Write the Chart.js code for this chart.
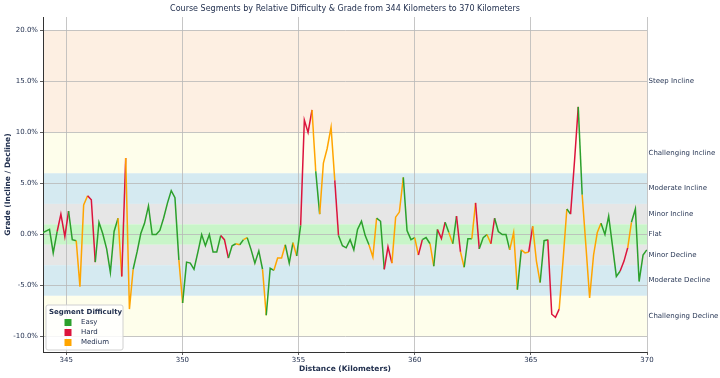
<!DOCTYPE html>
<html>
<head>
<meta charset="utf-8">
<script src="https://cdn.jsdelivr.net/npm/chart.js@4.4.0/dist/chart.umd.min.js"></script>
<style>
  html, body { margin: 0; padding: 0; background: #fff; }
</style>
</head>
<body>
<canvas id="gradeChart" width="720" height="378"></canvas>
<script>
// distance along the course (km)
const distanceKm = [
  344.00, 344.28, 344.44, 344.61, 344.77, 344.94, 345.10, 345.26, 345.43, 345.59,
  345.75, 345.92, 346.08, 346.25, 346.41, 346.57, 346.74, 346.90, 347.06, 347.23,
  347.39, 347.56, 347.72, 347.88, 348.05, 348.21, 348.37, 348.54, 348.70, 348.87,
  349.03, 349.19, 349.36, 349.52, 349.68, 349.85, 350.01, 350.18, 350.34, 350.50,
  350.67, 350.83, 350.99, 351.16, 351.32, 351.48, 351.65, 351.81, 351.98, 352.14,
  352.30, 352.47, 352.63, 352.79, 352.96, 353.12, 353.29, 353.45, 353.61, 353.78,
  353.94, 354.10, 354.27, 354.43, 354.60, 354.76, 354.92, 355.09, 355.25, 355.41,
  355.58, 355.74, 355.91, 356.07, 356.23, 356.40, 356.56, 356.72, 356.89, 357.05,
  357.22, 357.38, 357.54, 357.71, 357.87, 358.03, 358.20, 358.36, 358.53, 358.69,
  358.85, 359.02, 359.18, 359.34, 359.51, 359.67, 359.84, 360.00, 360.16, 360.33,
  360.49, 360.66, 360.82, 360.98, 361.15, 361.31, 361.47, 361.64, 361.80, 361.97,
  362.13, 362.29, 362.46, 362.62, 362.78, 362.95, 363.11, 363.28, 363.44, 363.60,
  363.77, 363.93, 364.09, 364.26, 364.42, 364.59, 364.75, 364.91, 365.08, 365.24,
  365.40, 365.57, 365.73, 365.90, 366.06, 366.22, 366.39, 366.55, 366.71, 366.88,
  367.04, 367.21, 367.37, 367.53, 367.70, 367.86, 368.02, 368.19, 368.35, 368.52,
  368.68, 368.84, 369.01, 369.17, 369.33, 369.50, 369.66, 369.83, 369.99
];

// grade in percent at each point
const gradePct = [
  0.2, 0.5, -1.8, 0.3, 2.0, -0.2, 2.3, -0.5, -0.6, -5.1,
  2.9, 3.8, 3.4, -2.7, 1.2, 0.1, -1.4, -3.7, 0.3, 1.6,
  -4.1, 7.5, -7.3, -3.4, -1.7, 0.1, 1.1, 2.8, 0.0, 0.0,
  0.4, 1.6, 3.1, 4.3, 3.6, -2.5, -6.7, -2.7, -2.8, -3.4,
  -1.7, 0.0, -1.1, 0.0, -1.7, -1.7, -0.1, -0.5, -2.3, -1.1,
  -0.9, -1.0, -0.5, -0.3, -1.5, -2.8, -1.6, -3.4, -7.9, -3.3,
  -3.5, -2.3, -2.3, -1.0, -2.8, -0.8, -2.1, 0.9, 11.2, 10.0,
  12.2, 6.2, 2.0, 7.0, 8.4, 10.5, 5.3, -0.1, -1.1, -1.3,
  -0.5, -1.5, 0.5, 1.3, -0.1, -1.0, -2.2, 1.6, 1.3, -3.4,
  -1.2, -2.8, 1.7, 2.2, 5.6, 0.4, -0.5, -0.3, -2.0, -0.5,
  -0.3, -0.9, -3.1, 0.5, -0.4, 1.2, 0.2, -0.9, 1.8, -1.7,
  -3.2, -0.4, -0.4, 3.1, -1.4, -0.3, 0.0, -0.9, 1.6, 0.3,
  0.0, 0.0, -1.5, 0.2, -5.4, -1.5, -1.8, -1.7, 0.8, -2.6,
  -4.7, -0.6, -0.5, -7.8, -8.1, -7.3, -2.4, 2.5, 2.0, 7.2,
  12.5, 3.9, -1.1, -6.2, -2.0, 0.2, 1.1, 0.0, 1.8, -1.2,
  -4.1, -3.6, -2.6, -1.3, 1.2, 2.5, -4.6, -2.0, -1.5
];

// difficulty of each segment between consecutive points (E = Easy, H = Hard, M = Medium)
const segmentDifficulty = [
  'E','E','E','H','H','H','E','E','M','M',
  'M','H','H','E','E','E','E','E','E','M',
  'H','M','M','E','E','E','E','E','E','E',
  'E','E','E','E','E','M','E','E','E','E',
  'E','E','E','E','E','E','H','H','E','E',
  'M','E','M','E','E','E','E','M','E','E',
  'M','M','M','E','E','M','E','H','H','H',
  'M','E','M','M','M','M','H','E','E','E',
  'E','E','E','E','E','M','M','E','E','H',
  'H','M','M','M','E','E','E','M','H','E',
  'E','M','E','H','H','E','M','E','H','M',
  'E','E','M','H','E','E','M','H','E','E',
  'E','E','M','M','E','M','M','H','M','M',
  'E','E','H','H','H','M','M','E','H','H',
  'E','M','M','M','M','M','E','E','E','E',
  'E','H','H','M','E','E','E','E'
];

const difficultyNames = { E: 'Easy', H: 'Hard', M: 'Medium' };

// grade bands shown behind the line
const bandLabels = ['Steep Incline', 'Challenging Incline', 'Moderate Incline', 'Minor Incline',
                    'Flat', 'Minor Decline', 'Moderate Decline', 'Challenging Decline'];
const bandLow  = [10, 6, 3, 1, -1, -3, -6, -10];
const bandHigh = [20, 10, 6, 3, 1, -1, -3, -6];

const gradeTicks = [-10, -5, 0, 5, 10, 15, 20];
const distanceTicks = [345, 350, 355, 360, 365, 370];

// styles
const FONT = '"DejaVu Sans", sans-serif';
const NAVY = '#22304f';
const difficultyColors = { E: '#2ca02c', H: '#dc143c', M: '#ffa500' };
const bandColors = ['#fdefe2', '#fefeeb', '#d5eaf1', '#e6e6e6', '#c8f5c8', '#e6e6e6', '#d5eaf1', '#fefeeb'];

const bandPlugin = {
  id: 'bands',
  beforeDraw(chart) {
    const { ctx, chartArea } = chart;
    const y = chart.scales.y;
    ctx.save();
    for (let i = 0; i < bandLabels.length; i++) {
      const top = y.getPixelForValue(bandHigh[i]);
      const bottom = y.getPixelForValue(bandLow[i]);
      ctx.fillStyle = bandColors[i];
      ctx.fillRect(chartArea.left, top, chartArea.right - chartArea.left, bottom - top);
    }
    ctx.restore();
  },
  afterDraw(chart) {
    const { ctx, chartArea } = chart;
    const y = chart.scales.y;
    ctx.save();
    ctx.font = '7px ' + FONT;
    ctx.fillStyle = '#2b3a58';
    ctx.textAlign = 'left';
    ctx.textBaseline = 'middle';
    for (let i = 0; i < bandLabels.length; i++) {
      const mid = (bandLow[i] + bandHigh[i]) / 2;
      ctx.fillText(bandLabels[i], chartArea.right + 1.5, y.getPixelForValue(mid));
    }
    ctx.restore();
  }
};

const legendPlugin = {
  id: 'difficultyLegend',
  afterDraw(chart) {
    const { ctx, chartArea } = chart;
    const x0 = chartArea.left + 3, y0 = chartArea.bottom - 47, w = 77, h = 45;
    ctx.save();
    ctx.fillStyle = 'rgba(255,255,255,0.85)';
    ctx.strokeStyle = '#d0d0d0';
    ctx.lineWidth = 1;
    ctx.beginPath();
    ctx.roundRect(x0, y0, w, h, 2);
    ctx.fill();
    ctx.stroke();
    ctx.fillStyle = NAVY;
    ctx.textBaseline = 'middle';
    ctx.textAlign = 'left';
    ctx.font = 'bold 7px ' + FONT;
    ctx.fillText('Segment Difficulty', x0 + 3, y0 + 7.5);
    ctx.font = '7px ' + FONT;
    ['E', 'H', 'M'].forEach((k, i) => {
      const ry = y0 + 17.5 + i * 10;
      ctx.fillStyle = difficultyColors[k];
      ctx.fillRect(x0 + 18.5, ry - 3.5, 7, 7);
      ctx.fillStyle = NAVY;
      ctx.fillText(difficultyNames[k], x0 + 35, ry);
    });
    ctx.restore();
  }
};

const points = distanceKm.map((d, i) => ({ x: d, y: gradePct[i] }));

new Chart(document.getElementById('gradeChart'), {
  type: 'line',
  data: {
    datasets: [{
      label: 'Grade',
      data: points,
      borderWidth: 1.5,
      pointRadius: 0,
      tension: 0,
      borderColor: difficultyColors.E,
      segment: {
        borderColor: ctx => difficultyColors[segmentDifficulty[ctx.p0DataIndex]]
      }
    }]
  },
  options: {
    responsive: false,
    animation: false,
    devicePixelRatio: 1,
    layout: { padding: { top: 0, right: 73, bottom: 0, left: 0 } },
    plugins: {
      legend: { display: false },
      tooltip: { enabled: false },
      title: {
        display: true,
        fullSize: false,
        text: 'Course Segments by Relative Difficulty & Grade from 344 Kilometers to 370 Kilometers',
        color: NAVY,
        font: { family: FONT, size: 8, weight: 'normal' },
        padding: { top: 4, bottom: 3.4 }
      }
    },
    scales: {
      x: {
        type: 'linear',
        min: 344,
        max: 370,
        afterBuildTicks: s => { s.ticks = distanceTicks.map(v => ({ value: v })); },
        afterFit: s => { s.height = 26; },
        ticks: { color: NAVY, font: { family: FONT, size: 7 }, padding: 1, maxRotation: 0 },
        grid: { color: '#b8b8b8', lineWidth: 0.8, tickLength: 3, tickColor: '#333' },
        border: { display: true, color: '#333', width: 1 },
        title: {
          display: true,
          text: 'Distance (Kilometers)',
          color: NAVY,
          font: { family: FONT, size: 7.5, weight: 'bold' },
          padding: { top: 0, bottom: 4.5 }
        }
      },
      y: {
        type: 'linear',
        min: -11.5,
        max: 21.3,
        afterBuildTicks: s => { s.ticks = gradeTicks.map(v => ({ value: v })); },
        afterFit: s => { s.width = 43; },
        ticks: {
          color: NAVY,
          font: { family: FONT, size: 7 },
          padding: 2,
          callback: v => v.toFixed(1) + '%'
        },
        grid: { color: '#b8b8b8', lineWidth: 0.8, tickLength: 3, tickColor: '#333' },
        border: { display: true, color: '#333', width: 1 },
        title: {
          display: true,
          text: 'Grade (Incline / Decline)',
          color: NAVY,
          font: { family: FONT, size: 7.5, weight: 'bold' },
          padding: { top: 3.5, bottom: 0 }
        }
      }
    }
  },
  plugins: [bandPlugin, legendPlugin]
});
</script>
</body>
</html>
